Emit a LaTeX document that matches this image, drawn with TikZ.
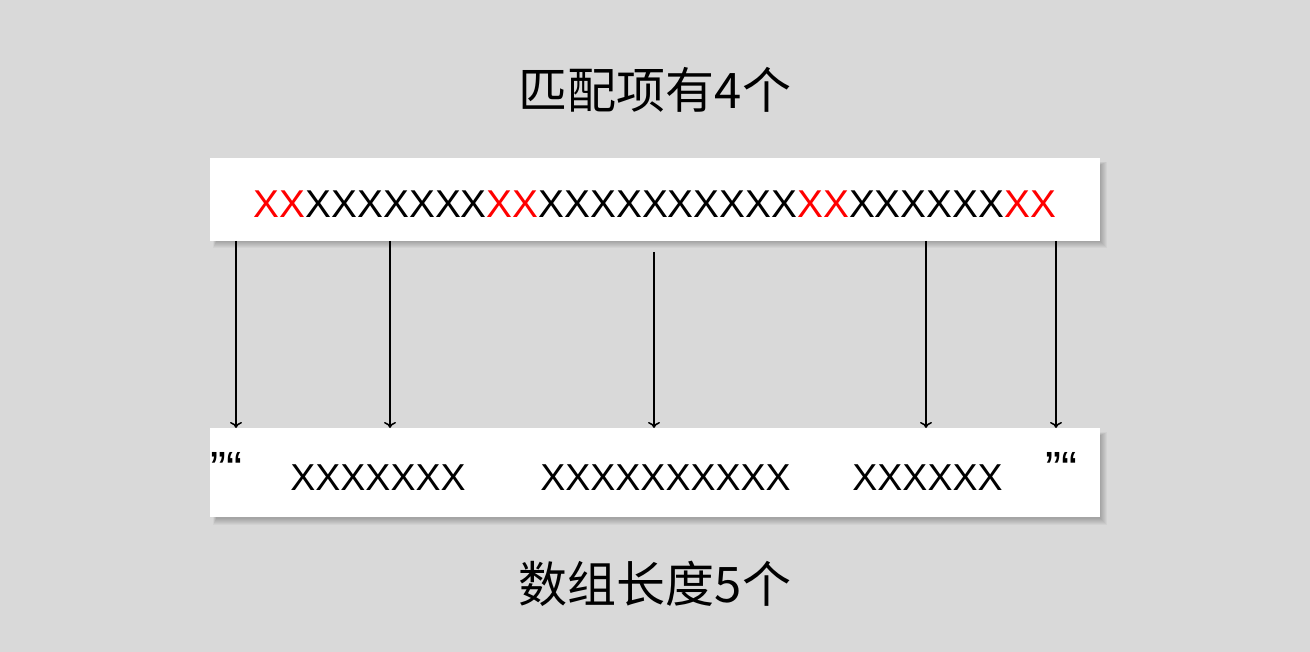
\documentclass[tikz,border=0pt]{standalone}
\usepackage{fontspec}
\setmainfont{Liberation Sans}
\newfontfamily\cjk{Noto Sans CJK SC}
\usetikzlibrary{arrows.meta}
\definecolor{bg}{HTML}{D9D9D9}
\definecolor{hl}{HTML}{FF0000}
\tikzset{
  panel/.style={fill=white, draw=none, minimum width=890pt, inner sep=0pt},
  title/.style={font=\cjk\fontsize{49pt}{52pt}\selectfont, inner sep=0pt},
  xs/.style={font=\fontsize{37.5pt}{40pt}\selectfont, inner sep=0pt, anchor=base},
  xt/.style={font=\fontsize{38.8pt}{40pt}\selectfont, inner sep=0pt, anchor=base},
  quote/.style={font=\fontsize{48pt}{50pt}\selectfont, inner sep=0pt, anchor=north west},
  link/.style={line width=1.5pt, -{To[length=6pt,width=12pt]}},
}
\begin{document}
\begin{tikzpicture}[x=1pt,y=-1pt]
\fill[bg] (0,0) rectangle (1310,652);
\useasboundingbox (0,0) rectangle (1310,652);
% soft shadows
\foreach \r in {1,2,...,7}{
  \fill[black, opacity=0.035] (210+3-\r/2+3.5, 158+4-\r/2+3.5) rectangle (1100+3+\r-3.5, 241+4+\r-3.5);
  \fill[black, opacity=0.035] (210+3-\r/2+3.5, 428+4-\r/2+3.5) rectangle (1100+3+\r-3.5, 517+4+\r-3.5);
}
% titles
\node[title] (t1) at (655,90) {匹配项有4个};
\node[title] (t2) at (655,584) {数组长度5个};
% panels
\node[panel, minimum height=83pt, anchor=north west] (top) at (210,158) {};
\node[panel, minimum height=89pt, anchor=north west] (bot) at (210,428) {};
% top text
\node[xt] (s) at (655,218) {\textcolor{hl}{XX}XXXXXXX\textcolor{hl}{XX}XXXXXXXXXX\textcolor{hl}{XX}XXXXXX\textcolor{hl}{XX}};
% bottom text
\node[quote] (q1) at (210,452) {”“};
\node[xs] (b1) at (378,490) {XXXXXXX};
\node[xs] (b2) at (665.5,490) {XXXXXXXXXX};
\node[xs] (b3) at (927.5,490) {XXXXXX};
\node[quote] (q2) at (1045,452) {”“};
% arrow endpoints
\coordinate (a1) at (236,241);
\coordinate (a2) at (390,241);
\coordinate (a3) at (654,252);
\coordinate (a4) at (926,241);
\coordinate (a5) at (1056,241);
\draw[link] (a1) -- (a1 |- bot.north);
\draw[link] (a2) -- (a2 |- bot.north);
\draw[link] (a3) -- (a3 |- bot.north);
\draw[link] (a4) -- (a4 |- bot.north);
\draw[link] (a5) -- (a5 |- bot.north);
\end{tikzpicture}
\end{document}
